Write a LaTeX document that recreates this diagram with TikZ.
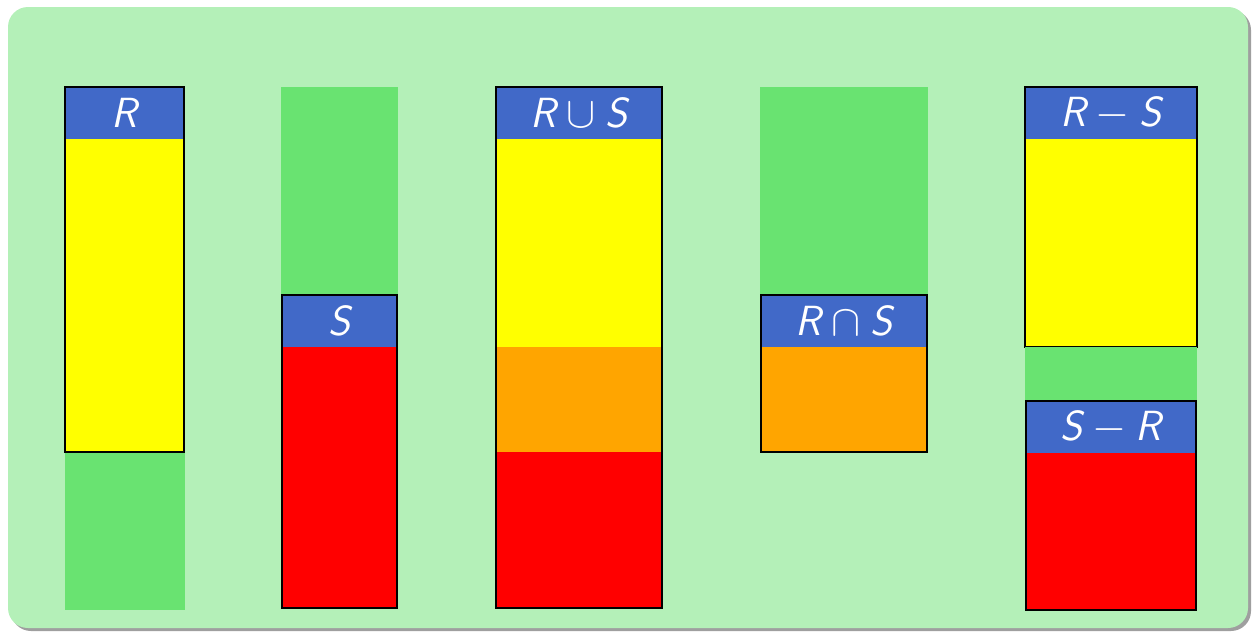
\documentclass[tikz,border=0pt]{standalone}
\usepackage{fontspec}
\definecolor{bggreen}{RGB}{180,240,184}
\definecolor{colgreen}{RGB}{105,227,113}
\definecolor{hdrblue}{RGB}{65,105,200}
\definecolor{setorange}{RGB}{255,165,0}
\definecolor{setyellow}{RGB}{255,255,0}
\definecolor{setred}{RGB}{255,0,0}
\tikzset{
  lbl/.style={text=white, inner sep=0pt, font=\fontsize{24}{28}\selectfont\sffamily\itshape},
  frame/.style={draw=black, line width=0.9pt}
}
\begin{document}
\begin{tikzpicture}[x=0.02cm, y=-0.02cm]
\useasboundingbox (0,0) rectangle (1256,632);
% panel with shadow
\fill[gray!75, rounded corners=0.4cm] (11,10) rectangle (1251,631);
\fill[bggreen, rounded corners=0.4cm] (8,7) rectangle (1248,628);
% R
\fill[colgreen] (65,87) rectangle (185,610);
\fill[hdrblue] (65,87) rectangle (184,139);
\fill[setyellow] (65,139) rectangle (184,452);
\draw[frame] (65,87) rectangle (184,452);
\node[lbl] (r) at (124.5,113) {R};
% S
\fill[colgreen] (281,87) rectangle (398,295);
\fill[hdrblue] (282,295) rectangle (397,347);
\fill[setred] (282,347) rectangle (397,608);
\draw[frame] (282,295) rectangle (397,608);
\node[lbl] (s) at (339.5,321) {S};
% R union S
\fill[hdrblue] (496,87) rectangle (662,139);
\fill[setyellow] (496,139) rectangle (662,347);
\fill[setorange] (496,347) rectangle (662,452);
\fill[setred] (496,452) rectangle (662,608);
\draw[frame] (496,87) rectangle (662,608);
\node[lbl] (rus) at (579,113) {R${}\cup{}$S};
% R intersect S
\fill[colgreen] (760,87) rectangle (928,295);
\fill[hdrblue] (761,295) rectangle (927,347);
\fill[setorange] (761,347) rectangle (927,452);
\draw[frame] (761,295) rectangle (927,452);
\node[lbl] (rns) at (844,321) {R${}\cap{}$S};
% differences
\fill[hdrblue] (1025,87) rectangle (1197,139);
\fill[setyellow] (1025,139) rectangle (1197,347);
\draw[frame] (1025,87) rectangle (1197,347);
\node[lbl] (rms) at (1111,113) {R${}-{}$S};
\fill[colgreen] (1025,347) rectangle (1197,401);
\fill[hdrblue] (1026,401) rectangle (1196,453);
\fill[setred] (1026,453) rectangle (1196,610);
\draw[frame] (1026,401) rectangle (1196,610);
\node[lbl] (smr) at (1111,427) {S${}-{}$R};
\end{tikzpicture}
\end{document}
